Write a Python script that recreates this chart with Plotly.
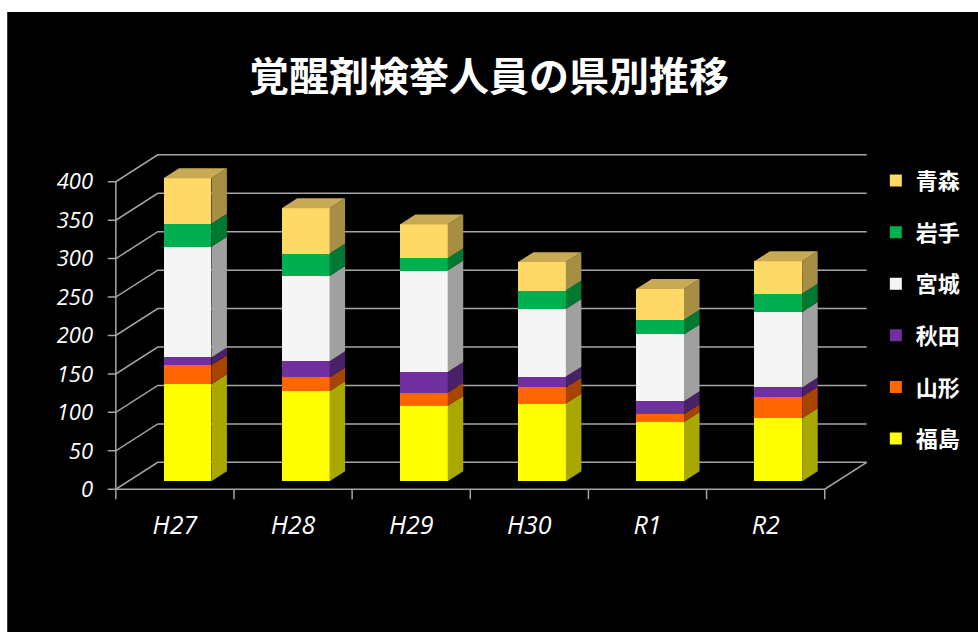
import numpy as np
import plotly.graph_objects as go

# ---------------- data ----------------
years = ["H27", "H28", "H29", "H30", "R1", "R2"]
prefs = ["福島", "山形", "秋田", "宮城", "岩手", "青森"]   # bottom -> top
fukushima = [126, 117, 98, 101, 77, 82]
yamagata = [25, 18, 17, 21, 10, 28]
akita = [10, 21, 27, 14, 17, 12]
miyagi = [144, 111, 132, 88, 87, 98]
iwate = [30, 29, 16, 24, 19, 24]
aomori = [59, 59, 44, 37, 40, 42]
series = [fukushima, yamagata, akita, miyagi, iwate, aomori]
y_ticks = list(range(0, 401, 50))

# ---------------- style ----------------
front_col = ["#FFFF00", "#FF6600", "#7030A0", "#F5F5F5", "#00B050", "#FFD966"]
side_col = ["#A8A800", "#A84300", "#4A2069", "#A0A0A0", "#007A33", "#A68F45"]
top_col = "#C8AA55"
grid_col = "#A6A6A6"

DX, DY = 0.355, 35.0        # full depth of the 3D box (x units, value units)
BAR_F = 0.30                # front face of bars at this fraction of depth
BAR_D = 0.37                # bar depth as fraction of full depth
BAR_W = 0.405
TICK_X, TICK_Y = 0.068, 13.0

n = len(years)
xc = np.arange(n) + 0.5
xb = xc + BAR_F * DX
vals = np.array(series, dtype=float)
bottoms = np.vstack([np.zeros(n), np.cumsum(vals, axis=0)[:-1]])
tops = bottoms + vals
ddx, ddy = BAR_D * DX, BAR_D * DY
yoff = BAR_F * DY

fig = go.Figure()

# front faces (bars) - added top series first so the legend lists 青森 first
for k in reversed(range(len(prefs))):
    name = prefs[k]
    fig.add_trace(go.Bar(
        x=xb, y=vals[k], base=bottoms[k] + yoff, width=BAR_W, name=name,
        marker=dict(color=front_col[k], line=dict(width=0)),
        legendgroup=name, hoverinfo="skip"))

# side faces
for k, name in enumerate(prefs):
    px, py = [], []
    for i in range(n):
        xr = xb[i] + BAR_W / 2
        b = bottoms[k][i] + yoff
        t = tops[k][i] + yoff
        px += [xr, xr + ddx, xr + ddx, xr, xr, None]
        py += [b, b + ddy, t + ddy, t, b, None]
    fig.add_trace(go.Scatter(x=px, y=py, mode="lines", fill="toself",
                             fillcolor=side_col[k], line=dict(width=0, color=side_col[k]),
                             showlegend=False, hoverinfo="skip"))

# top faces
px, py = [], []
for i in range(n):
    xl = xb[i] - BAR_W / 2
    xr = xb[i] + BAR_W / 2
    t = tops[-1][i] + yoff
    px += [xl, xl + ddx, xr + ddx, xr, xl, None]
    py += [t, t + ddy, t + ddy, t, t, None]
fig.add_trace(go.Scatter(x=px, y=py, mode="lines", fill="toself",
                         fillcolor=top_col, line=dict(width=0, color=top_col),
                         showlegend=False, hoverinfo="skip"))

# ---------------- box / gridlines (shapes below traces) ----------------
shapes = [dict(type="rect", xref="paper", yref="paper", x0=-0.126, x1=1.3, y0=-0.6, y1=1.398,
               fillcolor="black", line=dict(width=0), layer="below")]
lw = dict(color=grid_col, width=1.5)
for v in y_ticks:
    path = f"M{-TICK_X},{v} L0,{v} L{DX},{v + DY} L{n + DX},{v + DY}"
    shapes.append(dict(type="path", xref="x", yref="y", path=path, line=lw, layer="below"))
shapes.append(dict(type="line", xref="x", yref="y", x0=0, y0=0, x1=0, y1=y_ticks[-1], line=lw, layer="below"))
shapes.append(dict(type="path", xref="x", yref="y",
                   path=f"M0,0 L{n},0 L{n + DX},{DY}", line=lw, layer="below"))
for k in range(n + 1):
    shapes.append(dict(type="line", xref="x", yref="y", x0=k, y0=0, x1=k, y1=-TICK_Y, line=lw, layer="below"))

fig.update_layout(
    width=978, height=632,
    margin=dict(l=104, r=104, t=151, b=132),
    paper_bgcolor="white", plot_bgcolor="rgba(0,0,0,0)",
    barmode="overlay", bargap=0,
    shapes=shapes,
    title=dict(text="覚醒剤検挙人員の県別推移", x=0.5, xref="container", xanchor="center",
               y=1 - 77 / 632, yref="container", yanchor="middle",
               font=dict(family="Noto Sans CJK JP", size=40, color="white", weight="bold")),
    xaxis=dict(range=[-0.1, 6.4], tickvals=list(xc), ticktext=years, showgrid=False,
               zeroline=False, showline=False, ticks="", ticklabelstandoff=8,
               tickfont=dict(family="Open Sans", size=25, color="white", style="italic")),
    yaxis=dict(range=[-14, 440], tickvals=y_ticks, showgrid=False, zeroline=False,
               showline=False, ticks="", ticklabelstandoff=10,
               tickfont=dict(family="Open Sans", size=22, color="white", style="italic")),
    legend=dict(x=1.005, xanchor="left", y=0.975, yanchor="top",
                traceorder="grouped", tracegroupgap=20,
                font=dict(family="Noto Sans CJK JP", size=22, color="white", weight="bold"),
                bgcolor="rgba(0,0,0,0)"),
    showlegend=True,
)

fig.write_html("out.html")
